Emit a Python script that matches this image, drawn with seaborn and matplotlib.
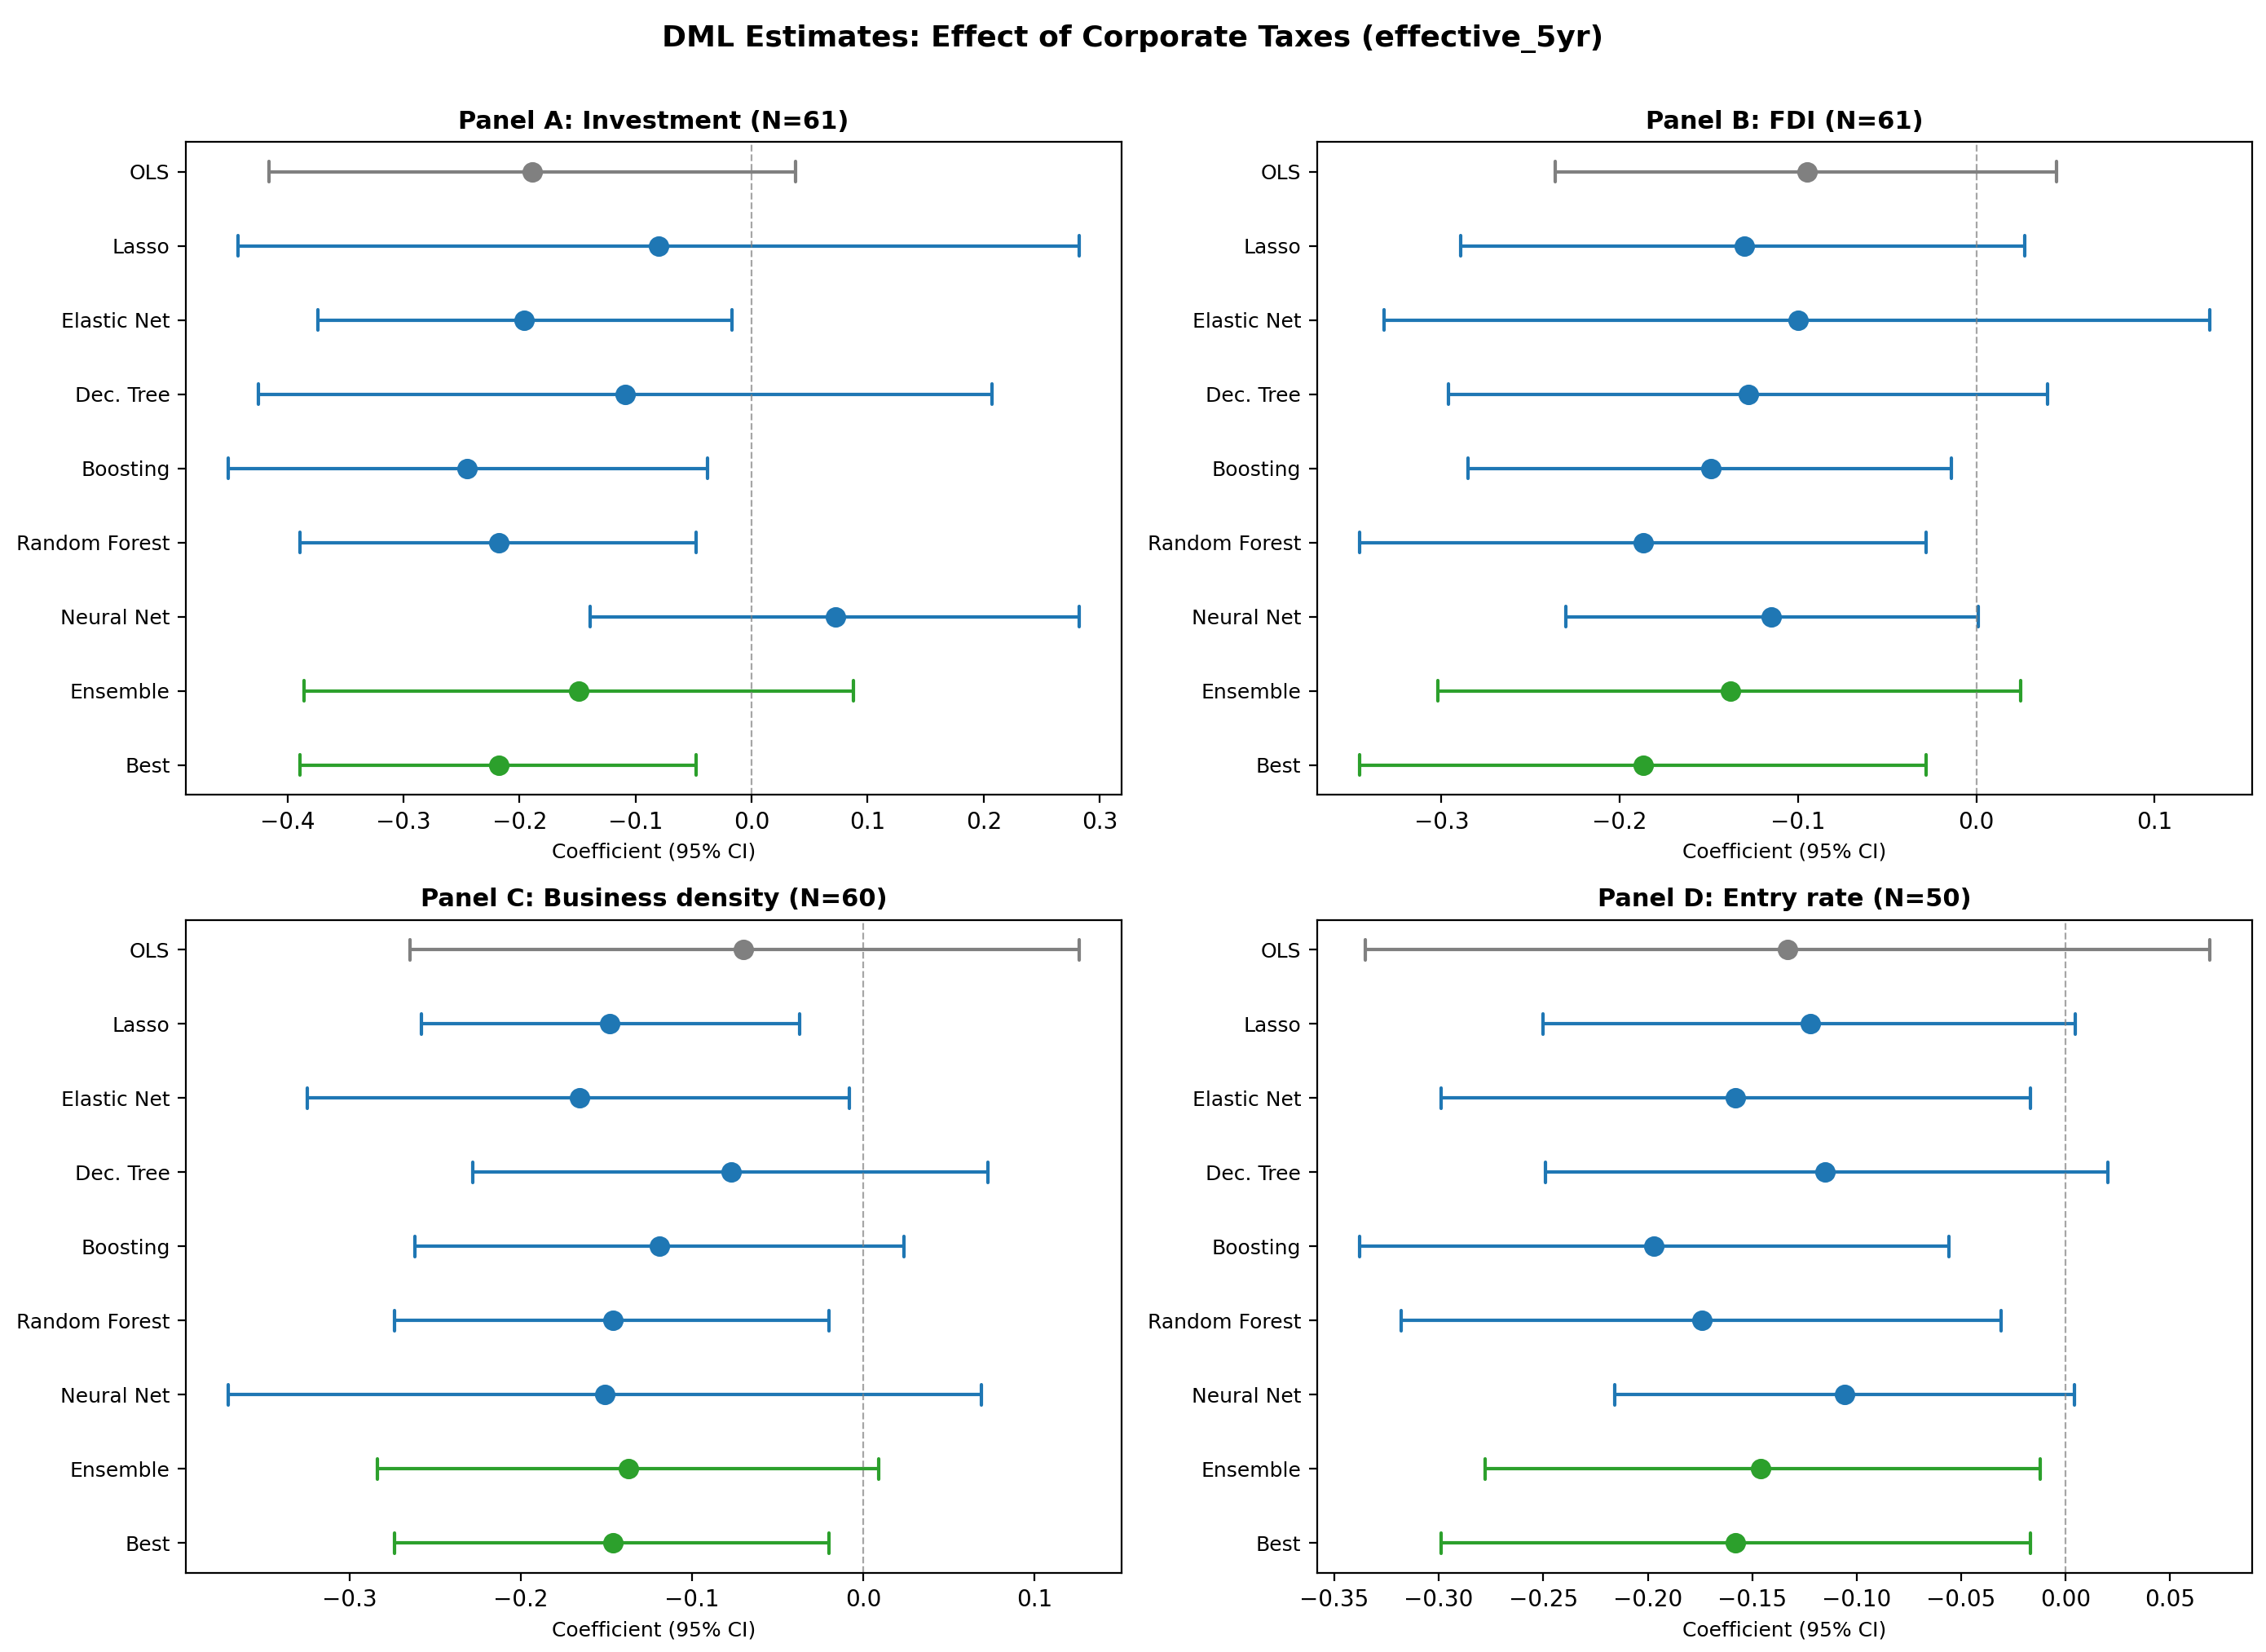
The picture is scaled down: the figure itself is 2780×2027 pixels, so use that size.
import pandas as pd
import seaborn as sns
import matplotlib
matplotlib.use('Agg')
import matplotlib.pyplot as plt

# モデル名（上から順）
models = ['OLS', 'Lasso', 'Elastic Net', 'Dec. Tree', 'Boosting',
          'Random Forest', 'Neural Net', 'Ensemble', 'Best']

# Panel A: Investment
inv_est = [-0.189, -0.080, -0.196, -0.109, -0.245, -0.218, 0.072, -0.149, -0.218]
inv_lo = [-0.416, -0.443, -0.374, -0.425, -0.451, -0.389, -0.139, -0.386, -0.389]
inv_hi = [0.038, 0.282, -0.017, 0.207, -0.038, -0.048, 0.282, 0.088, -0.048]

# Panel B: FDI
fdi_est = [-0.095, -0.130, -0.100, -0.128, -0.149, -0.187, -0.115, -0.138, -0.187]
fdi_lo = [-0.236, -0.289, -0.332, -0.296, -0.285, -0.346, -0.230, -0.302, -0.346]
fdi_hi = [0.045, 0.027, 0.131, 0.040, -0.014, -0.028, 0.001, 0.025, -0.028]

# Panel C: Business density
bd_est = [-0.070, -0.148, -0.166, -0.077, -0.119, -0.146, -0.151, -0.137, -0.146]
bd_lo = [-0.265, -0.258, -0.325, -0.228, -0.262, -0.274, -0.371, -0.284, -0.274]
bd_hi = [0.126, -0.037, -0.008, 0.073, 0.024, -0.020, 0.069, 0.009, -0.020]

# Panel D: Entry rate
er_est = [-0.133, -0.122, -0.158, -0.115, -0.197, -0.174, -0.106, -0.146, -0.158]
er_lo = [-0.335, -0.250, -0.299, -0.249, -0.338, -0.318, -0.216, -0.278, -0.299]
er_hi = [0.069, 0.0045, -0.017, 0.020, -0.056, -0.031, 0.004, -0.012, -0.017]

panels = [
    ('Panel A: Investment (N=61)', inv_lo, inv_est, inv_hi),
    ('Panel B: FDI (N=61)', fdi_lo, fdi_est, fdi_hi),
    ('Panel C: Business density (N=60)', bd_lo, bd_est, bd_hi),
    ('Panel D: Entry rate (N=50)', er_lo, er_est, er_hi),
]

# 色分け: OLSは灰色、MLは青、Ensemble/Bestは緑
palette = {m: '#1f77b4' for m in models}
palette['OLS'] = 'gray'
palette['Ensemble'] = '#2ca02c'
palette['Best'] = '#2ca02c'

sns.set_style('ticks', rc={'text.color': 'black', 'axes.labelcolor': 'black',
                           'xtick.color': 'black', 'ytick.color': 'black',
                           'axes.edgecolor': 'black'})
plt.rcParams['font.family'] = ['DejaVu Sans']

fig, axes = plt.subplots(2, 2, figsize=(13.9, 10.135), dpi=200)
fig.subplots_adjust(left=0.082, right=0.994, top=0.914, bottom=0.048,
                    wspace=0.209, hspace=0.192)

for ax, (title, lo, est, hi) in zip(axes.flat, panels):
    # 下限・推定値・上限を縦長データに（中央値=推定値、min-max=区間）
    rows = []
    for m, a, b, c in zip(models, lo, est, hi):
        for v in (a, b, c):
            rows.append({'model': m, 'coef': v})
    df = pd.DataFrame(rows)

    sns.pointplot(data=df, x='coef', y='model', hue='model', order=models,
                  hue_order=models, palette=palette, estimator='median',
                  errorbar=('pi', 100), capsize=0.28, linestyle='none',
                  markers='o', markersize=7, err_kws={'linewidth': 1.5},
                  legend=False, ax=ax)
    ax.axvline(0, color='gray', linestyle='--', linewidth=0.8, alpha=0.7)
    ax.set_ylim(8.4, -0.4)
    ax.set_title(title, fontsize=11, fontweight='bold')
    ax.set_xlabel('Coefficient (95% CI)', fontsize=9)
    ax.set_ylabel('')
    ax.tick_params(axis='y', labelsize=9)
    ax.tick_params(axis='x', labelsize=10)
    for s in ax.spines.values():
        s.set_visible(True)
        s.set_color('black')
        s.set_linewidth(0.8)

fig.suptitle('DML Estimates: Effect of Corporate Taxes (effective_5yr)',
             fontsize=13, fontweight='bold', y=0.985)

plt.savefig('out.png', dpi=200)
